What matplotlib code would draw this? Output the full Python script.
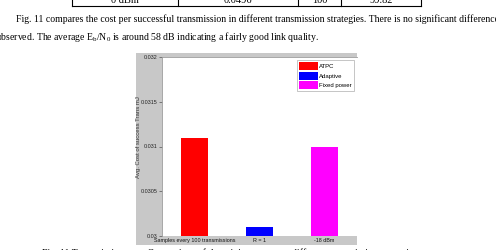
import matplotlib
matplotlib.use("Agg")
import matplotlib.pyplot as plt
from matplotlib.patches import Rectangle, Patch

categories = ["Samples every 100 transmissions", "R = 1", "-18 dBm"]
series_names = ["ATPC", "Adaptive", "Fixed power"]
values = [0.03110, 0.03010, 0.03100]
colors = ["#ff0000", "#0000ff", "#ff00ff"]
yticks = [0.03, 0.0305, 0.031, 0.0315, 0.032]
ytick_labels = ["0.03", "0.0305", "0.031", "0.0315", "0.032"]
table_row = ["0 dBm", "0.0496", "100", "99.82"]

W, H = 496, 250
fig = plt.figure(figsize=(W / 100, H / 100), dpi=100)
fig.patch.set_facecolor("white")

def fx(px):
    return px / W

def fy(py):
    return 1 - py / H

serif = "Liberation Serif"
sans = "Liberation Sans"
fs_body = 7.05

# table remnant at top
tab_x = [72, 178, 298, 341, 421]
for xx in tab_x:
    fig.add_artist(plt.Line2D([fx(xx), fx(xx)], [fy(-2), fy(6)], color="black", lw=0.8))
fig.add_artist(plt.Line2D([fx(72), fx(421)], [fy(6), fy(6)], color="black", lw=0.8))
for i, t in enumerate(table_row):
    cx = (tab_x[i] + tab_x[i + 1]) / 2
    fig.text(fx(cx), fy(0.5), t, ha="center", va="center", fontsize=7.5, family=serif)

# body text
fig.text(fx(16), fy(19), "Fig. 11 compares the cost per successful transmission in different transmission strategies. There is no significant difference",
         ha="left", va="center", fontsize=fs_body, family=serif)
fig.text(fx(-4), fy(37), "observed. The average E$_\\mathregular{b}$/N$_\\mathregular{0}$ is around 58 dB indicating a fairly good link quality.",
         ha="left", va="center", fontsize=fs_body, family=serif)

# gray chart panel
fig.add_artist(Rectangle((fx(136), fy(245)), fx(357) - fx(136), fy(53) - fy(245),
                         transform=fig.transFigure, facecolor="#c8c8c8", edgecolor="none", zorder=0))

ax = fig.add_axes([fx(162), fy(236), fx(357) - fx(162), fy(57) - fy(236)])
ax.set_facecolor("white")
x = [1, 2, 3]
ax.bar(x, [v - 0.03 for v in values], bottom=0.03, width=0.41, color=colors, zorder=2)
ax.set_xlim(0.5, 3.5)
ax.set_ylim(0.03, 0.032)
ax.set_yticks(yticks)
ax.set_yticklabels(ytick_labels, fontsize=3.9, family=sans, color="#222222")
ax.set_xticks(x)
ax.set_xticklabels(categories, fontsize=3.9, family=sans, color="#111111")
ax.tick_params(axis="y", length=2, width=0.5, pad=1, colors="#555555", labelcolor="#222222")
ax.tick_params(axis="x", length=0, pad=1.5)
for s in ax.spines.values():
    s.set_color("#999999")
    s.set_linewidth(0.6)
ax.spines["right"].set_visible(False)
ax.spines["bottom"].set_visible(False)
ax.set_ylabel("Avg. Cost of success Trans mJ", fontsize=4.3, family=sans, color="#333333")
ax.yaxis.set_label_coords((141 - 162) / (357 - 162), 0.55)

handles = [Patch(facecolor=c, edgecolor="none") for c in colors]
leg = ax.legend(handles, series_names, loc="upper right", frameon=True,
                fancybox=False, borderpad=0.35, handlelength=3.2, handleheight=1.7,
                handletextpad=0.2, labelspacing=0.25, borderaxespad=0.5,
                prop={"family": sans, "size": 4.3})
leg.get_frame().set_edgecolor("#999999")
leg.get_frame().set_linewidth(0.5)

# caption (cut off at bottom)
fig.text(fx(42), fy(253), "Fig. 11 Transmission cost: Comparison of the minimum cost to different transmission strategies",
         ha="left", va="center", fontsize=fs_body, family=serif)

fig.savefig("out.png", dpi=100)
